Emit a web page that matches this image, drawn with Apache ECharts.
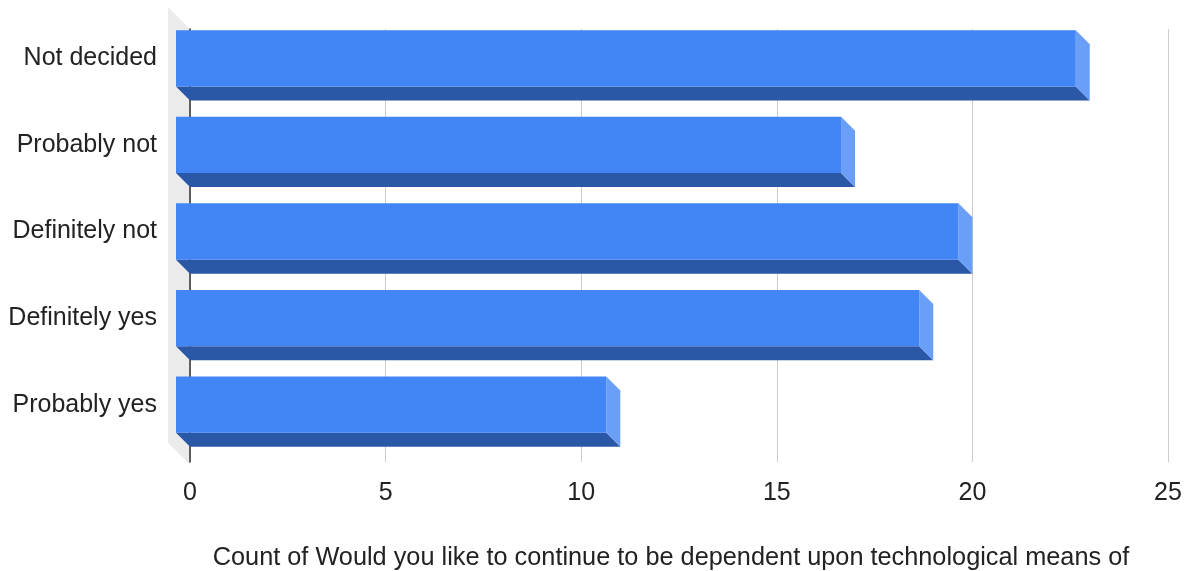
<!DOCTYPE html>
<html>
<head>
<meta charset="utf-8">
<script src="https://cdn.jsdelivr.net/npm/echarts@6/dist/echarts.min.js"></script>
<style>
  html, body { margin: 0; padding: 0; background: #fff; }
  #chart { width: 1190px; height: 571px; }
</style>
</head>
<body>
<div id="chart"></div>
<script>
// answers, top to bottom as shown
var categories = ["Not decided", "Probably not", "Definitely not", "Definitely yes", "Probably yes"];
var counts = [23, 17, 20, 19, 11];
var axisTitle = "Count of Would you like to continue to be dependent upon technological means of";

var DEPTH = 14; // 3d offset of the bars
var font = "'Liberation Sans', Arial, sans-serif";

var chart = echarts.init(document.getElementById("chart"));

// gray side wall on the left of the plot
function renderWall(params, api) {
  var cs = params.coordSys;
  var w = 22;
  return {
    type: "polygon",
    shape: {
      points: [
        [cs.x - w, cs.y - w],
        [cs.x, cs.y],
        [cs.x, cs.y + cs.height + 3],
        [cs.x - w, cs.y + cs.height + 3 - w]
      ]
    },
    style: { fill: "#ebebeb" },
    z2: 0
  };
}

function renderBar(params, api) {
  var idx = api.value(0);
  var p0 = api.coord([0, idx]);
  var pv = api.coord([api.value(1), idx]);
  var band = api.size([0, 1])[1];
  var h = band * 0.65;
  var x0 = p0[0], xv = pv[0];
  var yt = p0[1] - h / 2, yb = p0[1] + h / 2;
  var d = DEPTH;
  return {
    type: "group",
    children: [
      {
        type: "polygon",
        shape: { points: [[x0 - d, yb - d], [xv - d, yb - d], [xv, yb], [x0, yb]] },
        style: { fill: "#2b57a7" }
      },
      {
        type: "polygon",
        shape: { points: [[xv - d, yt - d], [xv, yt], [xv, yb], [xv - d, yb - d]] },
        style: { fill: "#6a9ff7" }
      },
      {
        type: "rect",
        shape: { x: x0 - d, y: yt - d, width: xv - x0, height: h },
        style: { fill: "#4285f4" }
      }
    ]
  };
}

var option = {
  animation: false,
  grid: { left: 190, right: 22, top: 29, bottom: 109, outerBoundsMode: "none", containLabel: false },
  xAxis: {
    type: "value",
    min: 0,
    max: 25,
    interval: 5,
    name: axisTitle,
    nameLocation: "middle",
    nameGap: 84,
    nameTextStyle: { fontSize: 25.3, color: "#222", fontFamily: font, padding: [0, 16, 0, 0] },
    axisLine: { show: false },
    axisTick: { show: false },
    axisLabel: { fontSize: 25, color: "#222", fontFamily: font, margin: 19 },
    splitLine: { lineStyle: { color: "#cccccc" } }
  },
  yAxis: {
    type: "category",
    inverse: true,
    data: categories,
    axisLine: { show: true, lineStyle: { color: "#333", width: 1.5 } },
    axisTick: { show: false },
    axisLabel: {
      fontSize: 25,
      color: "#222",
      fontFamily: font,
      margin: 33,
      verticalAlign: "bottom",
      lineHeight: 28
    }
  },
  series: [
    {
      type: "custom",
      renderItem: renderWall,
      data: [[0, 0]],
      z: 0,
      silent: true
    },
    {
      type: "custom",
      renderItem: renderBar,
      encode: { x: 1, y: 0 },
      data: counts.map(function (v, i) { return [i, v]; }),
      z: 5
    }
  ]
};

chart.setOption(option);
</script>
</body>
</html>
